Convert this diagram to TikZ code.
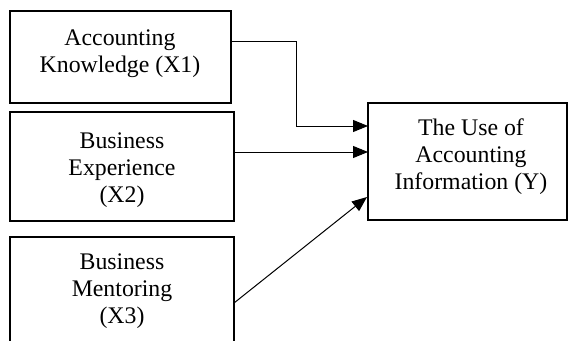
\documentclass[tikz,border=0pt]{standalone}
\usepackage{fontspec}
\setmainfont{Liberation Serif}
\usetikzlibrary{arrows.meta}
\begin{document}
\begin{tikzpicture}[x=1pt,y=-1pt,
  box/.style={draw, line width=2.4pt, inner sep=0pt, outer sep=0pt, anchor=north west},
  txt/.style={align=center, inner sep=0pt, font=\fontsize{23.8}{27}\selectfont},
  arr/.style={line width=1pt, -{Triangle[length=15pt,width=12pt]}}]
\useasboundingbox (0,0) rectangle (570,340);
\clip (0,0) rectangle (570,340);
\node[box, minimum width=221pt, minimum height=92pt] (b1) at (10,11) {};
\node[box, minimum width=224pt, minimum height=109pt] (b2) at (10,112) {};
\node[box, minimum width=224pt, minimum height=120pt] (b3) at (10,237) {};
\node[box, minimum width=199pt, minimum height=117pt] (y) at (368,103) {};
\node[txt] (t1) at (120,54) {Accounting\\Knowledge (X1)};
\node[txt] (t2) at (122,170) {Business\\Experience\\(X2)};
\node[txt] (t3) at (122,291) {Business\\Mentoring\\(X3)};
\node[txt] (ty) at (471,157) {The Use of\\Accounting\\Information (Y)};
\coordinate (k1) at (0,41);
\coordinate (bend) at (296,126);
\coordinate (k2) at (0,152);
\coordinate (s3) at (0,303);
\coordinate (e3) at (367,197);
\draw[arr] (b1.east |- k1) -| (bend) -- (y.west |- bend);
\draw[arr] (b2.east |- k2) -- (y.west |- k2);
\draw[arr] (b3.east |- s3) -- (e3);
\end{tikzpicture}
\end{document}
